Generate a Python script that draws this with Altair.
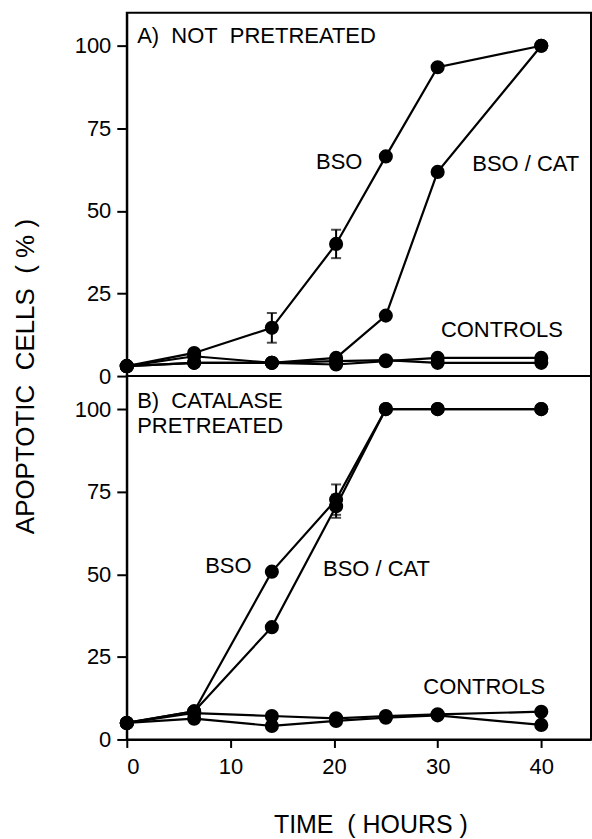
import altair as alt
import pandas as pd

FONT = "Liberation Sans"

# ---- data ----
TIME = [0, 6.5, 14, 20.2, 25, 30, 40]

A_BSO = [3, 7, 14.6, 40, 66.5, 93.5, 100]
A_BSO_CAT = [3, 4, 4, 5.5, 18.3, 61.8, 100]
A_CTRL1 = [3, 6, 4, 3.5, 4.5, 5.5, 5.5]
A_CTRL2 = [3, 4, 4, 4.5, 4.8, 4, 4]

B_BSO = [5, 8.5, 50.8, 72.6, 100, 100, 100]
B_BSO_CAT = [5, 8.5, 34, 70.6, 100, 100, 100]
B_CTRL1 = [5, 8, 7.1, 6.4, 7.1, 7.6, 8.4]
B_CTRL2 = [5, 6.3, 4.1, 5.6, 6.6, 7.3, 4.4]

A_ERR_TIME = [14, 20.2]
A_ERR_MEAN = [14.6, 40]
A_ERR_SD = [4.5, 4.3]

B_ERR_TIME = [20.2, 20.2]
B_ERR_MEAN = [72.6, 70.6]
B_ERR_SD = [4.6, 3.5]

A_LABEL_TEXT = ["A)\u00a0 NOT\u00a0 PRETREATED", "BSO", "BSO / CAT", "CONTROLS"]
A_LABEL_X = [1.0, 20.5, 38.5, 36.2]
A_LABEL_Y = [103, 64.7, 64.1, 13.9]
A_LABEL_ALIGN = ["left", "center", "center", "center"]

B_LABEL_TEXT = ["B)\u00a0 CATALASE", "PRETREATED", "BSO", "BSO / CAT", "CONTROLS"]
B_LABEL_X = [1.0, 1.0, 9.8, 24.1, 34.5]
B_LABEL_Y = [102.3, 94.8, 52.6, 51.6, 16]
B_LABEL_ALIGN = ["left", "left", "center", "center", "center"]

Y_TICKS = [0, 25, 50, 75, 100]
X_TICKS = [0, 10, 20, 30, 40]


def series_df(series):
    rows = []
    for name, vals in series.items():
        for t, v in zip(TIME, vals):
            rows.append({"series": name, "time": t, "value": v})
    return pd.DataFrame(rows)


def err_df(times, means, sds):
    return pd.DataFrame({
        "time": times,
        "lo": [m - s for m, s in zip(means, sds)],
        "hi": [m + s for m, s in zip(means, sds)],
    })


def label_df(texts, xs, ys, aligns):
    return pd.DataFrame({"text": texts, "x": xs, "y": ys, "align": aligns})


W, H = 465, 364
xscale = alt.Scale(domain=[0, 44.8], nice=False, zero=False)
yscale = alt.Scale(domain=[0, 110], nice=False, zero=False)


def panel(series, err, labels, xaxis, yaxis):
    base = alt.Chart(series)
    line = base.mark_line(color="black", strokeWidth=2.2).encode(
        x=alt.X("time:Q", scale=xscale, axis=xaxis),
        y=alt.Y("value:Q", scale=yscale, axis=yaxis),
        detail="series:N",
        order="time:Q",
    )
    pts = base.mark_point(filled=True, color="black", opacity=1, size=200).encode(
        x="time:Q", y="value:Q"
    )
    eb = alt.Chart(err)
    rule = eb.mark_rule(color="black", strokeWidth=2).encode(
        x="time:Q", y="lo:Q", y2="hi:Q"
    )
    cap_hi = eb.mark_tick(color="black", orient="horizontal", size=10, thickness=2).encode(
        x="time:Q", y="hi:Q"
    )
    cap_lo = eb.mark_tick(color="black", orient="horizontal", size=10, thickness=2).encode(
        x="time:Q", y="lo:Q"
    )
    lab = labels
    txt_left = alt.Chart(lab[lab["align"] == "left"]).mark_text(
        font=FONT, fontSize=22, align="left", baseline="middle", color="black"
    ).encode(x="x:Q", y="y:Q", text="text:N")
    txt_center = alt.Chart(lab[lab["align"] == "center"]).mark_text(
        font=FONT, fontSize=22, align="center", baseline="middle", color="black"
    ).encode(x="x:Q", y="y:Q", text="text:N")
    return alt.layer(line, rule, cap_hi, cap_lo, pts, txt_left, txt_center).properties(
        width=W, height=H
    )


top = panel(
    series_df({"BSO": A_BSO, "BSO/CAT": A_BSO_CAT, "C1": A_CTRL1, "C2": A_CTRL2}),
    err_df(A_ERR_TIME, A_ERR_MEAN, A_ERR_SD),
    label_df(A_LABEL_TEXT, A_LABEL_X, A_LABEL_Y, A_LABEL_ALIGN),
    alt.Axis(labels=False, ticks=False, domain=False, title=None, grid=False),
    alt.Axis(
        values=Y_TICKS, grid=False, tickSize=10, labelPadding=6,
        title="APOPTOTIC\u00a0 CELLS\u00a0 ( % )",
        titleX=-101, titleY=364, titleAngle=-90, titleBaseline="middle",
        titleAlign="center", titleFontSize=26,
    ),
)

bottom = panel(
    series_df({"BSO": B_BSO, "BSO/CAT": B_BSO_CAT, "C1": B_CTRL1, "C2": B_CTRL2}),
    err_df(B_ERR_TIME, B_ERR_MEAN, B_ERR_SD),
    label_df(B_LABEL_TEXT, B_LABEL_X, B_LABEL_Y, B_LABEL_ALIGN),
    alt.Axis(
        values=X_TICKS, grid=False, tickSize=8, labelPadding=9,
        title="TIME\u00a0 ( HOURS )", titleX=244, titleY=85, titleBaseline="middle",
        titleAlign="center", titleFontSize=25,
    ),
    alt.Axis(values=Y_TICKS, grid=False, tickSize=10, labelPadding=6, title=None),
)

chart = alt.vconcat(top, bottom, spacing=0, bounds="flush").configure_view(
    stroke="black", strokeWidth=2
).configure_axis(
    domainColor="black", domainWidth=2, tickColor="black", tickWidth=2,
    labelFont=FONT, labelFontSize=22, labelColor="black",
    titleFont=FONT, titleFontWeight="normal", titleColor="black",
).properties(
    padding={"left": 12, "top": 11, "right": 0, "bottom": 0},
    background="white",
)

chart.save("out.html", embed_options={"renderer": "svg", "actions": False})
